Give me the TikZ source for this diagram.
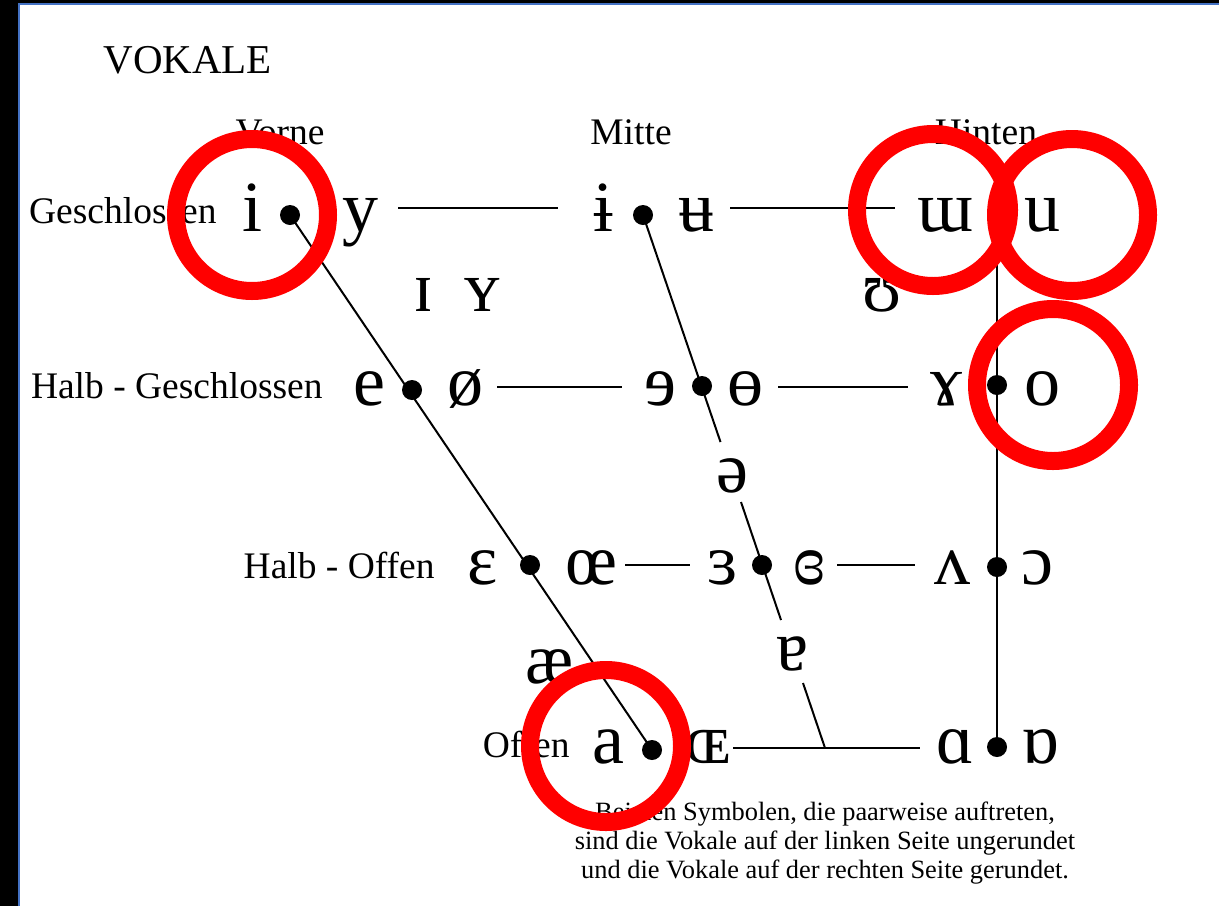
\documentclass[tikz,border=0pt]{standalone}
\usepackage{fontspec}
\setmainfont{Liberation Serif}
\newfontfamily\ipafont{Liberation Serif}
\definecolor{frameblue}{RGB}{68,114,196}
\begin{document}
\begin{tikzpicture}[x=0.5pt,y=-0.5pt,
  ipa/.style={font=\ipafont\fontsize{36}{40}\selectfont, inner sep=0pt, anchor=base},
  lab/.style={font=\fontsize{18.75}{22}\selectfont, inner sep=0pt, anchor=base east},
  head/.style={font=\fontsize{18.75}{22}\selectfont, inner sep=0pt, anchor=base},
  foot/.style={font=\fontsize{13.2}{15}\selectfont, inner sep=0pt, anchor=base},
  dot/.style={circle, fill=black, inner sep=0pt, minimum size=10pt},
  ln/.style={line width=1pt},
  ring/.style={draw=red, line width=9pt}]
\useasboundingbox (0,0) rectangle (1219,906);
\fill[white] (0,0) rectangle (1219,906);
% frame
\fill[black] (0,0) rectangle (18,906);
\fill[black] (0,0) rectangle (1219,3);
\fill[frameblue] (18,3) rectangle (20,906);
\fill[frameblue] (18,3) rectangle (1219,5);

% titles
\node[font=\fontsize{20.5}{24}\selectfont, inner sep=0pt, anchor=base west] (title) at (103,73) {VOKALE};
\node[head] (vorne) at (280,144) {Vorne};
\node[head] (mitte) at (631,144) {Mitte};
\node[head] (hinten) at (986,144) {Hinten};

% row labels
\node[lab] (l1) at (217,223) {Geschlossen};
\node[lab] (l2) at (323,398) {Halb - Geschlossen};
\node[lab] (l3) at (435,578) {Halb - Offen};
\node[lab] (l4) at (570,757) {Offen};

% row 1
\node[ipa] (i) at (252,231) {i};
\node[dot] (d11) at (290,215) {};
\node[ipa] (y) at (360,231) {y};
\node[ipa] (ibar) at (603,231) {ɨ};
\node[dot] (d12) at (643,215) {};
\node[ipa] (ubar) at (696,231) {ʉ};
\node[ipa] (turnm) at (945,231) {ɯ};
\node[dot] (d13) at (997,213) {};
\node[ipa] (u) at (1042,231) {u};
% near-close
\node[ipa] (smi) at (423,311) {ɪ};
\node[ipa] (smy) at (482,311) {ʏ};
\node[ipa] (ups) at (882,311) {ʊ};
% row 2
\node[ipa] (e) at (369,405) {e};
\node[dot] (d21) at (412,390) {};
\node[ipa] (oslash) at (465,405) {ø};
\node[ipa] (reve) at (660,405) {ɘ};
\node[dot] (d22) at (702,386) {};
\node[ipa] (baro) at (745,405) {ɵ};
\node[ipa] (ramshorn) at (946,405) {ɤ};
\node[dot] (d23) at (997,385) {};
\node[ipa] (o) at (1042,405) {o};
% schwa
\node[ipa] (schwa) at (732,492) {ə};
% row 3
\node[ipa] (eps) at (483,584) {ɛ};
\node[dot] (d31) at (530,565) {};
\node[ipa] (oe) at (591,584) {œ};
\node[ipa] (reveps) at (723,584) {ɜ};
\node[dot] (d32) at (762,565) {};
\node[ipa] (closedeps) at (809,584) {ɞ};
\node[ipa] (turnv) at (952,584) {ʌ};
\node[dot] (d33) at (997,567) {};
\node[ipa] (openo) at (1037,584) {ɔ};
% near-open
\node[ipa] (ae) at (550,683) {æ};
\node[ipa] (turna) at (792,670) {ɐ};
% row 4
\node[ipa] (a) at (608,763) {a};
\node[dot] (d41) at (652,750) {};
\node[ipa] (OE) at (708,763) {ɶ};
\node[ipa] (alpha) at (955,763) {ɑ};
\node[dot] (d43) at (997,747) {};
\node[ipa] (turnalpha) at (1040,763) {ɒ};

% horizontal connector ends
\coordinate (h1a) at (398,208); \coordinate (h1b) at (558,208);
\coordinate (h1c) at (730,208); \coordinate (h1d) at (895,208);
\coordinate (h2a) at (497,387); \coordinate (h2b) at (622,387);
\coordinate (h2c) at (778,387); \coordinate (h2d) at (908,387);
\coordinate (h3a) at (625,565); \coordinate (h3b) at (690,565);
\coordinate (h3c) at (837,565); \coordinate (h3d) at (915,565);
\coordinate (h4a) at (733,748); \coordinate (h4b) at (920,748);
% central slant pieces
\coordinate (cA) at (720.5,442);
\coordinate (cB) at (741,502);
\coordinate (cC) at (781,620);
\coordinate (cD) at (803,683);
\coordinate (cE) at (825,748);

\draw[ln] (h1a) -- (h1b);
\draw[ln] (h1c) -- (h1d);
\draw[ln] (h2a) -- (h2b);
\draw[ln] (h2c) -- (h2d);
\draw[ln] (h3a) -- (h3b);
\draw[ln] (h3c) -- (h3d);
\draw[ln] (h4a) -- (h4b);

\draw[ln] (d11.center) -- (d41.center);
\draw[ln] (d12.center) -- (cA);
\draw[ln] (cB) -- (cC);
\draw[ln] (cD) -- (cE);
\draw[ln] (d13.center) -- (d43.center);

% footnote
\node[foot] (f1) at (825,820) {Bei den Symbolen, die paarweise auftreten,};
\node[foot] (f2) at (825,849) {sind die Vokale auf der linken Seite ungerundet};
\node[foot] (f3) at (825,878) {und die Vokale auf der rechten Seite gerundet.};

% red rings
\draw[ring] (252,215) circle[radius=38pt];
\draw[ring] (933,210) circle[radius=38pt];
\draw[ring] (1072,215) circle[radius=38pt];
\draw[ring] (1053,385) circle[radius=38pt];
\draw[ring] (606,746) circle[radius=38pt];
\end{tikzpicture}
\end{document}
